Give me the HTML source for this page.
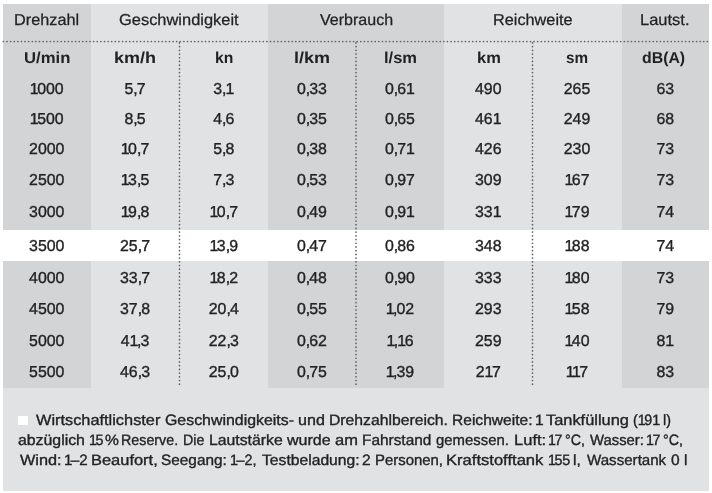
<!DOCTYPE html>
<html lang="de"><head><meta charset="utf-8"><title>Fahrleistungen</title>
<style>
html,body{margin:0;padding:0;background:#fff;}
body{width:712px;height:493px;position:relative;overflow:hidden;text-rendering:geometricPrecision;font-family:"Liberation Sans",Arial,sans-serif;color:#222222;}
.a{position:absolute;}
.t{position:absolute;text-align:center;white-space:nowrap;-webkit-text-stroke:0.35px #222222;}
.f{position:absolute;white-space:nowrap;transform-origin:0 0;-webkit-text-stroke:0.25px #222222;}
.fn{-webkit-text-stroke:0.35px #222222;}
.n1{letter-spacing:-1.5px;}
.nc{letter-spacing:-1.0px;}
.b{font-weight:bold;-webkit-text-stroke:0.0px #222222;}
</style></head><body>

<div class="a" style="left:3px;top:4px;width:706px;height:487px;background:#e1e2e4"></div>
<div class="a" style="left:3px;top:4px;width:87.5px;height:383.5px;background:#d3d4d6"></div>
<div class="a" style="left:268px;top:4px;width:88px;height:383.5px;background:#d3d4d6"></div>
<div class="a" style="left:356px;top:4px;width:88px;height:383.5px;background:#d3d4d6"></div>
<div class="a" style="left:621.5px;top:4px;width:87.5px;height:383.5px;background:#d3d4d6"></div>
<div class="a" style="left:3px;top:230px;width:706px;height:31.399999999999977px;background:#ffffff"></div>
<svg class="a" style="left:0;top:0" width="712" height="493"><line x1="3.4" y1="41.5" x2="709" y2="41.5" stroke="#5e5e5e" stroke-width="1.7" stroke-linecap="round" stroke-dasharray="0.01 3.6"/><line x1="179.5" y1="42.9" x2="179.5" y2="387.5" stroke="#5e5e5e" stroke-width="1.7" stroke-linecap="round" stroke-dasharray="0.01 3.7"/><line x1="356" y1="42.9" x2="356" y2="387.5" stroke="#5e5e5e" stroke-width="1.7" stroke-linecap="round" stroke-dasharray="0.01 3.7"/><line x1="532.5" y1="42.9" x2="532.5" y2="387.5" stroke="#5e5e5e" stroke-width="1.7" stroke-linecap="round" stroke-dasharray="0.01 3.7"/></svg>
<div class="f" style="left:14.47px;top:12.00px;font-size:15.8px;line-height:18.96px;transform:scaleX(1.0309)">Drehzahl</div>
<div class="f" style="left:119.28px;top:12.00px;font-size:15.8px;line-height:18.96px;transform:scaleX(1.0402)">Geschwindigkeit</div>
<div class="f" style="left:319.90px;top:12.00px;font-size:15.8px;line-height:18.96px;transform:scaleX(1.0147)">Verbrauch</div>
<div class="f" style="left:492.67px;top:12.00px;font-size:15.8px;line-height:18.96px;transform:scaleX(1.0297)">Reichweite</div>
<div class="f" style="left:640.26px;top:12.00px;font-size:15.8px;line-height:18.96px;transform:scaleX(1.0431)">Lautst.</div>
<div class="f b" style="left:23.81px;top:49.80px;font-size:15.8px;line-height:18.96px;transform:scaleX(1.0580)">U/min</div>
<div class="f b" style="left:114.16px;top:49.80px;font-size:15.8px;line-height:18.96px;transform:scaleX(1.1400)">km/h</div>
<div class="f b" style="left:214.61px;top:49.80px;font-size:15.8px;line-height:18.96px;transform:scaleX(0.9939)">kn</div>
<div class="f b" style="left:294.16px;top:49.80px;font-size:15.8px;line-height:18.96px;transform:scaleX(1.1395)">l/km</div>
<div class="f b" style="left:383.75px;top:49.80px;font-size:15.8px;line-height:18.96px;transform:scaleX(1.0454)">l/sm</div>
<div class="f b" style="left:476.76px;top:49.80px;font-size:15.8px;line-height:18.96px;transform:scaleX(1.0429)">km</div>
<div class="f b" style="left:566.42px;top:49.80px;font-size:15.8px;line-height:18.96px;transform:scaleX(0.9674)">sm</div>
<div class="f b" style="left:641.60px;top:49.80px;font-size:15.8px;line-height:18.96px;transform:scaleX(1.0036)">dB(A)</div>
<div class="f fn" style="left:35.97px;top:411.90px;font-size:15.0px;line-height:18.0px;transform:scaleX(1.0891)">Wirtschaftlichster </div>
<div class="f fn" style="left:165.07px;top:411.90px;font-size:15.0px;line-height:18.0px;transform:scaleX(1.0600)">Geschwindigkeits- </div>
<div class="f fn" style="left:298.20px;top:411.90px;font-size:15.0px;line-height:18.0px;transform:scaleX(1.0723)">und </div>
<div class="f fn" style="left:329.15px;top:411.90px;font-size:15.0px;line-height:18.0px;transform:scaleX(1.0490)">Drehzahlbereich. </div>
<div class="f fn" style="left:452.16px;top:411.90px;font-size:15.0px;line-height:18.0px;transform:scaleX(1.0384)">Reichweite: </div>
<div class="f fn" style="left:534.61px;top:411.90px;font-size:15.0px;line-height:18.0px;transform:scaleX(1.0384)">1 </div>
<div class="f fn" style="left:545.60px;top:411.90px;font-size:15.0px;line-height:18.0px;transform:scaleX(1.0924)">Tankfüllung </div>
<div class="f fn" style="left:632.58px;top:411.90px;font-size:15.0px;line-height:18.0px;transform:scaleX(0.9542)">(<span style="letter-spacing:-1.6px">1</span>91 l)</div>
<div class="f fn" style="left:18.47px;top:432.40px;font-size:15.0px;line-height:18.0px;transform:scaleX(1.0554)">abzüglich </div>
<div class="f fn" style="left:89.49px;top:432.40px;font-size:15.0px;line-height:18.0px;transform:scaleX(0.9500)"><span style="letter-spacing:-1.6px">1</span>5 </div>
<div class="f fn" style="left:104.87px;top:432.40px;font-size:15.0px;line-height:18.0px;transform:scaleX(1.0384)">% </div>
<div class="f fn" style="left:121.15px;top:432.40px;font-size:15.0px;line-height:18.0px;transform:scaleX(0.9517)">Reserve. </div>
<div class="f fn" style="left:182.92px;top:432.40px;font-size:15.0px;line-height:18.0px;transform:scaleX(0.9500)">Die </div>
<div class="f fn" style="left:208.85px;top:432.40px;font-size:15.0px;line-height:18.0px;transform:scaleX(1.0526)">Lautstärke </div>
<div class="f fn" style="left:287.37px;top:432.40px;font-size:15.0px;line-height:18.0px;transform:scaleX(1.0699)">wurde </div>
<div class="f fn" style="left:335.15px;top:432.40px;font-size:15.0px;line-height:18.0px;transform:scaleX(1.0974)">am </div>
<div class="f fn" style="left:362.27px;top:432.40px;font-size:15.0px;line-height:18.0px;transform:scaleX(1.0266)">Fahrstand </div>
<div class="f fn" style="left:436.15px;top:432.40px;font-size:15.0px;line-height:18.0px;transform:scaleX(0.9931)">gemessen. </div>
<div class="f fn" style="left:513.50px;top:432.40px;font-size:15.0px;line-height:18.0px;transform:scaleX(1.1037)">Luft: </div>
<div class="f fn" style="left:548.06px;top:432.40px;font-size:15.0px;line-height:18.0px;transform:scaleX(0.9500)"><span style="letter-spacing:-1.6px">1</span>7 </div>
<div class="f fn" style="left:564.69px;top:432.40px;font-size:15.0px;line-height:18.0px;transform:scaleX(0.9500)">°C, </div>
<div class="f fn" style="left:589.85px;top:432.40px;font-size:15.0px;line-height:18.0px;transform:scaleX(0.9907)">Wasser: </div>
<div class="f fn" style="left:646.11px;top:432.40px;font-size:15.0px;line-height:18.0px;transform:scaleX(0.9500)"><span style="letter-spacing:-1.6px">1</span>7 </div>
<div class="f fn" style="left:663.49px;top:432.40px;font-size:15.0px;line-height:18.0px;transform:scaleX(0.9500)">°C,</div>
<div class="f fn" style="left:19.57px;top:452.40px;font-size:15.0px;line-height:18.0px;transform:scaleX(1.0853)">Wind: </div>
<div class="f fn" style="left:63.64px;top:452.40px;font-size:15.0px;line-height:18.0px;transform:scaleX(1.0112)"><span style="letter-spacing:-1.6px">1</span>–2 </div>
<div class="f fn" style="left:91.40px;top:452.40px;font-size:15.0px;line-height:18.0px;transform:scaleX(1.0962)">Beaufort, </div>
<div class="f fn" style="left:161.39px;top:452.40px;font-size:15.0px;line-height:18.0px;transform:scaleX(1.0247)">Seegang: </div>
<div class="f fn" style="left:229.98px;top:452.40px;font-size:15.0px;line-height:18.0px;transform:scaleX(0.9592)"><span style="letter-spacing:-1.6px">1</span>–2, </div>
<div class="f fn" style="left:261.60px;top:452.40px;font-size:15.0px;line-height:18.0px;transform:scaleX(1.0450)">Testbeladung: </div>
<div class="f fn" style="left:362.37px;top:452.40px;font-size:15.0px;line-height:18.0px;transform:scaleX(1.0384)">2 </div>
<div class="f fn" style="left:375.01px;top:452.40px;font-size:15.0px;line-height:18.0px;transform:scaleX(0.9947)">Personen, </div>
<div class="f fn" style="left:446.39px;top:452.40px;font-size:15.0px;line-height:18.0px;transform:scaleX(1.1051)">Kraftstofftank </div>
<div class="f fn" style="left:547.77px;top:452.40px;font-size:15.0px;line-height:18.0px;transform:scaleX(0.9500)"><span style="letter-spacing:-1.6px">1</span>55 </div>
<div class="f fn" style="left:572.74px;top:452.40px;font-size:15.0px;line-height:18.0px;transform:scaleX(1.0384)">l, </div>
<div class="f fn" style="left:586.55px;top:452.40px;font-size:15.0px;line-height:18.0px;transform:scaleX(1.0069)">Wassertank </div>
<div class="f fn" style="left:671.07px;top:452.40px;font-size:15.0px;line-height:18.0px;transform:scaleX(1.0384)">0 </div>
<div class="f fn" style="left:683.93px;top:452.40px;font-size:15.0px;line-height:18.0px;transform:scaleX(1.0384)">l</div>
<div class="t" style="left:3px;width:87.5px;top:80.00px;font-size:15.9px;line-height:19.08px"><span class="n1">1</span>000</div>
<div class="t" style="left:90.5px;width:89.0px;top:80.00px;font-size:15.9px;line-height:19.08px">5<span class="nc">,</span>7</div>
<div class="t" style="left:179.5px;width:88.5px;top:80.00px;font-size:15.9px;line-height:19.08px">3<span class="nc">,</span>1</div>
<div class="t" style="left:268px;width:88px;top:80.00px;font-size:15.9px;line-height:19.08px">0<span class="nc">,</span>33</div>
<div class="t" style="left:356px;width:88px;top:80.00px;font-size:15.9px;line-height:19.08px">0<span class="nc">,</span>61</div>
<div class="t" style="left:444px;width:88.5px;top:80.00px;font-size:15.9px;line-height:19.08px">490</div>
<div class="t" style="left:532.5px;width:89.0px;top:80.00px;font-size:15.9px;line-height:19.08px">265</div>
<div class="t" style="left:621.5px;width:87.5px;top:80.00px;font-size:15.9px;line-height:19.08px">63</div>
<div class="t" style="left:3px;width:87.5px;top:110.40px;font-size:15.9px;line-height:19.08px"><span class="n1">1</span>500</div>
<div class="t" style="left:90.5px;width:89.0px;top:110.40px;font-size:15.9px;line-height:19.08px">8<span class="nc">,</span>5</div>
<div class="t" style="left:179.5px;width:88.5px;top:110.40px;font-size:15.9px;line-height:19.08px">4<span class="nc">,</span>6</div>
<div class="t" style="left:268px;width:88px;top:110.40px;font-size:15.9px;line-height:19.08px">0<span class="nc">,</span>35</div>
<div class="t" style="left:356px;width:88px;top:110.40px;font-size:15.9px;line-height:19.08px">0<span class="nc">,</span>65</div>
<div class="t" style="left:444px;width:88.5px;top:110.40px;font-size:15.9px;line-height:19.08px">461</div>
<div class="t" style="left:532.5px;width:89.0px;top:110.40px;font-size:15.9px;line-height:19.08px">249</div>
<div class="t" style="left:621.5px;width:87.5px;top:110.40px;font-size:15.9px;line-height:19.08px">68</div>
<div class="t" style="left:3px;width:87.5px;top:140.20px;font-size:15.9px;line-height:19.08px">2000</div>
<div class="t" style="left:90.5px;width:89.0px;top:140.20px;font-size:15.9px;line-height:19.08px"><span class="n1">1</span>0<span class="nc">,</span>7</div>
<div class="t" style="left:179.5px;width:88.5px;top:140.20px;font-size:15.9px;line-height:19.08px">5<span class="nc">,</span>8</div>
<div class="t" style="left:268px;width:88px;top:140.20px;font-size:15.9px;line-height:19.08px">0<span class="nc">,</span>38</div>
<div class="t" style="left:356px;width:88px;top:140.20px;font-size:15.9px;line-height:19.08px">0<span class="nc">,</span>71</div>
<div class="t" style="left:444px;width:88.5px;top:140.20px;font-size:15.9px;line-height:19.08px">426</div>
<div class="t" style="left:532.5px;width:89.0px;top:140.20px;font-size:15.9px;line-height:19.08px">230</div>
<div class="t" style="left:621.5px;width:87.5px;top:140.20px;font-size:15.9px;line-height:19.08px">73</div>
<div class="t" style="left:3px;width:87.5px;top:170.90px;font-size:15.9px;line-height:19.08px">2500</div>
<div class="t" style="left:90.5px;width:89.0px;top:170.90px;font-size:15.9px;line-height:19.08px"><span class="n1">1</span>3<span class="nc">,</span>5</div>
<div class="t" style="left:179.5px;width:88.5px;top:170.90px;font-size:15.9px;line-height:19.08px">7<span class="nc">,</span>3</div>
<div class="t" style="left:268px;width:88px;top:170.90px;font-size:15.9px;line-height:19.08px">0<span class="nc">,</span>53</div>
<div class="t" style="left:356px;width:88px;top:170.90px;font-size:15.9px;line-height:19.08px">0<span class="nc">,</span>97</div>
<div class="t" style="left:444px;width:88.5px;top:170.90px;font-size:15.9px;line-height:19.08px">309</div>
<div class="t" style="left:532.5px;width:89.0px;top:170.90px;font-size:15.9px;line-height:19.08px"><span class="n1">1</span>67</div>
<div class="t" style="left:621.5px;width:87.5px;top:170.90px;font-size:15.9px;line-height:19.08px">73</div>
<div class="t" style="left:3px;width:87.5px;top:202.70px;font-size:15.9px;line-height:19.08px">3000</div>
<div class="t" style="left:90.5px;width:89.0px;top:202.70px;font-size:15.9px;line-height:19.08px"><span class="n1">1</span>9<span class="nc">,</span>8</div>
<div class="t" style="left:179.5px;width:88.5px;top:202.70px;font-size:15.9px;line-height:19.08px"><span class="n1">1</span>0<span class="nc">,</span>7</div>
<div class="t" style="left:268px;width:88px;top:202.70px;font-size:15.9px;line-height:19.08px">0<span class="nc">,</span>49</div>
<div class="t" style="left:356px;width:88px;top:202.70px;font-size:15.9px;line-height:19.08px">0<span class="nc">,</span>91</div>
<div class="t" style="left:444px;width:88.5px;top:202.70px;font-size:15.9px;line-height:19.08px">331</div>
<div class="t" style="left:532.5px;width:89.0px;top:202.70px;font-size:15.9px;line-height:19.08px"><span class="n1">1</span>79</div>
<div class="t" style="left:621.5px;width:87.5px;top:202.70px;font-size:15.9px;line-height:19.08px">74</div>
<div class="t" style="left:3px;width:87.5px;top:236.50px;font-size:15.9px;line-height:19.08px">3500</div>
<div class="t" style="left:90.5px;width:89.0px;top:236.50px;font-size:15.9px;line-height:19.08px">25<span class="nc">,</span>7</div>
<div class="t" style="left:179.5px;width:88.5px;top:236.50px;font-size:15.9px;line-height:19.08px"><span class="n1">1</span>3<span class="nc">,</span>9</div>
<div class="t" style="left:268px;width:88px;top:236.50px;font-size:15.9px;line-height:19.08px">0<span class="nc">,</span>47</div>
<div class="t" style="left:356px;width:88px;top:236.50px;font-size:15.9px;line-height:19.08px">0<span class="nc">,</span>86</div>
<div class="t" style="left:444px;width:88.5px;top:236.50px;font-size:15.9px;line-height:19.08px">348</div>
<div class="t" style="left:532.5px;width:89.0px;top:236.50px;font-size:15.9px;line-height:19.08px"><span class="n1">1</span>88</div>
<div class="t" style="left:621.5px;width:87.5px;top:236.50px;font-size:15.9px;line-height:19.08px">74</div>
<div class="t" style="left:3px;width:87.5px;top:268.70px;font-size:15.9px;line-height:19.08px">4000</div>
<div class="t" style="left:90.5px;width:89.0px;top:268.70px;font-size:15.9px;line-height:19.08px">33<span class="nc">,</span>7</div>
<div class="t" style="left:179.5px;width:88.5px;top:268.70px;font-size:15.9px;line-height:19.08px"><span class="n1">1</span>8<span class="nc">,</span>2</div>
<div class="t" style="left:268px;width:88px;top:268.70px;font-size:15.9px;line-height:19.08px">0<span class="nc">,</span>48</div>
<div class="t" style="left:356px;width:88px;top:268.70px;font-size:15.9px;line-height:19.08px">0<span class="nc">,</span>90</div>
<div class="t" style="left:444px;width:88.5px;top:268.70px;font-size:15.9px;line-height:19.08px">333</div>
<div class="t" style="left:532.5px;width:89.0px;top:268.70px;font-size:15.9px;line-height:19.08px"><span class="n1">1</span>80</div>
<div class="t" style="left:621.5px;width:87.5px;top:268.70px;font-size:15.9px;line-height:19.08px">73</div>
<div class="t" style="left:3px;width:87.5px;top:300.10px;font-size:15.9px;line-height:19.08px">4500</div>
<div class="t" style="left:90.5px;width:89.0px;top:300.10px;font-size:15.9px;line-height:19.08px">37<span class="nc">,</span>8</div>
<div class="t" style="left:179.5px;width:88.5px;top:300.10px;font-size:15.9px;line-height:19.08px">20<span class="nc">,</span>4</div>
<div class="t" style="left:268px;width:88px;top:300.10px;font-size:15.9px;line-height:19.08px">0<span class="nc">,</span>55</div>
<div class="t" style="left:356px;width:88px;top:300.10px;font-size:15.9px;line-height:19.08px"><span class="n1">1</span><span class="nc">,</span>02</div>
<div class="t" style="left:444px;width:88.5px;top:300.10px;font-size:15.9px;line-height:19.08px">293</div>
<div class="t" style="left:532.5px;width:89.0px;top:300.10px;font-size:15.9px;line-height:19.08px"><span class="n1">1</span>58</div>
<div class="t" style="left:621.5px;width:87.5px;top:300.10px;font-size:15.9px;line-height:19.08px">79</div>
<div class="t" style="left:3px;width:87.5px;top:331.80px;font-size:15.9px;line-height:19.08px">5000</div>
<div class="t" style="left:90.5px;width:89.0px;top:331.80px;font-size:15.9px;line-height:19.08px">4<span class="n1">1</span><span class="nc">,</span>3</div>
<div class="t" style="left:179.5px;width:88.5px;top:331.80px;font-size:15.9px;line-height:19.08px">22<span class="nc">,</span>3</div>
<div class="t" style="left:268px;width:88px;top:331.80px;font-size:15.9px;line-height:19.08px">0<span class="nc">,</span>62</div>
<div class="t" style="left:356px;width:88px;top:331.80px;font-size:15.9px;line-height:19.08px"><span class="n1">1</span><span class="nc">,</span><span class="n1">1</span>6</div>
<div class="t" style="left:444px;width:88.5px;top:331.80px;font-size:15.9px;line-height:19.08px">259</div>
<div class="t" style="left:532.5px;width:89.0px;top:331.80px;font-size:15.9px;line-height:19.08px"><span class="n1">1</span>40</div>
<div class="t" style="left:621.5px;width:87.5px;top:331.80px;font-size:15.9px;line-height:19.08px">81</div>
<div class="t" style="left:3px;width:87.5px;top:362.70px;font-size:15.9px;line-height:19.08px">5500</div>
<div class="t" style="left:90.5px;width:89.0px;top:362.70px;font-size:15.9px;line-height:19.08px">46<span class="nc">,</span>3</div>
<div class="t" style="left:179.5px;width:88.5px;top:362.70px;font-size:15.9px;line-height:19.08px">25<span class="nc">,</span>0</div>
<div class="t" style="left:268px;width:88px;top:362.70px;font-size:15.9px;line-height:19.08px">0<span class="nc">,</span>75</div>
<div class="t" style="left:356px;width:88px;top:362.70px;font-size:15.9px;line-height:19.08px"><span class="n1">1</span><span class="nc">,</span>39</div>
<div class="t" style="left:444px;width:88.5px;top:362.70px;font-size:15.9px;line-height:19.08px">2<span class="n1">1</span>7</div>
<div class="t" style="left:532.5px;width:89.0px;top:362.70px;font-size:15.9px;line-height:19.08px"><span class="n1">1</span><span class="n1">1</span>7</div>
<div class="t" style="left:621.5px;width:87.5px;top:362.70px;font-size:15.9px;line-height:19.08px">83</div>
<div class="a" style="left:18.2px;top:416.2px;width:10px;height:9.3px;background:#fff"></div>
</body></html>
